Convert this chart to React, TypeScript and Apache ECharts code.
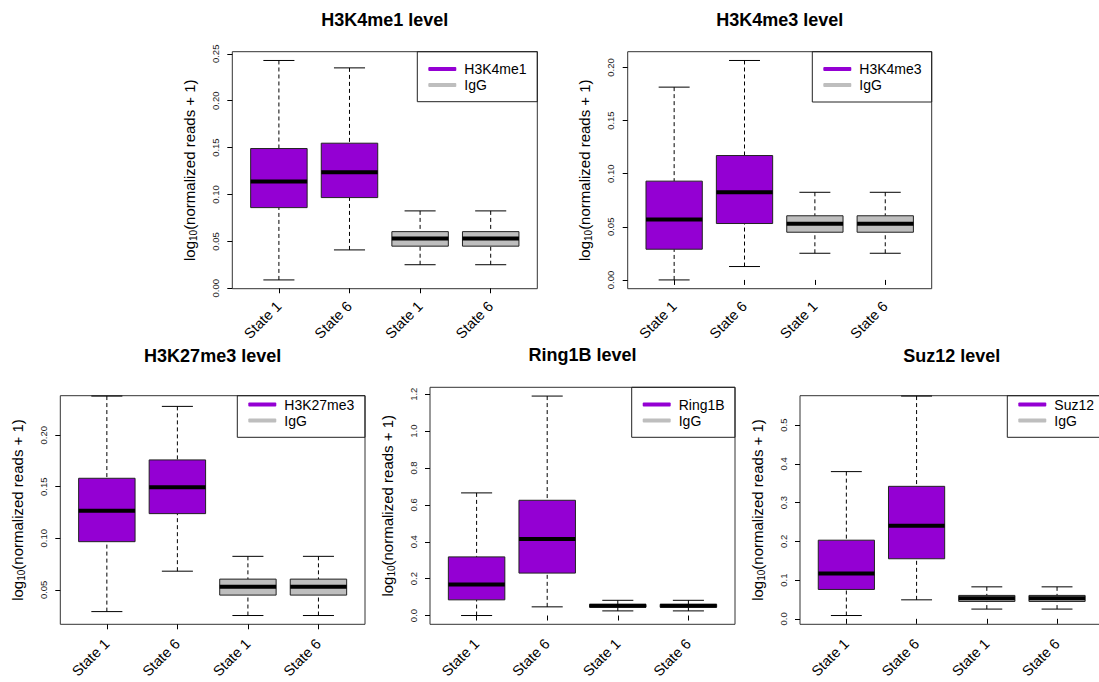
import React, { useEffect, useRef } from 'react';
import * as echarts from 'echarts';

// ---------- data ----------
const stateLabels = ['State 1', 'State 6', 'State 1', 'State 6'];
// box statistics: [lower whisker, Q1, median, Q3, upper whisker]
const iggStats = [0.0251, 0.0449, 0.053, 0.0604, 0.0825];
const h3k4me1Stats = [
  [0.0089, 0.086, 0.1138, 0.149, 0.2429],
  [0.0409, 0.0967, 0.1238, 0.1547, 0.235],
];
const h3k4me3Stats = [
  [0.0, 0.0289, 0.0568, 0.093, 0.1815],
  [0.0126, 0.0531, 0.0826, 0.1171, 0.2066],
];
const h3k27me3Stats = [
  [0.0289, 0.0967, 0.1268, 0.1582, 0.2379],
  [0.0681, 0.1239, 0.1494, 0.176, 0.2279],
];
const ring1bStats = [
  [0.0, 0.085, 0.168, 0.318, 0.665],
  [0.047, 0.23, 0.415, 0.625, 1.19],
];
const suz12Stats = [
  [0.0085, 0.0758, 0.117, 0.203, 0.38],
  [0.049, 0.155, 0.24, 0.342, 0.575],
];
const ticksH3K4me1 = [0, 0.05, 0.1, 0.15, 0.2, 0.25];
const ticksH3K4me3 = [0, 0.05, 0.1, 0.15, 0.2];
const ticksH3K27me3 = [0.05, 0.1, 0.15, 0.2];
const ticksRing1B = [0, 0.2, 0.4, 0.6, 0.8, 1.0, 1.2];
const ticksSuz12 = [0, 0.1, 0.2, 0.3, 0.4, 0.5];

// ---------- layout ----------
const panels = [
  { mark: 'H3K4me1', stats: h3k4me1Stats, ticks: ticksH3K4me1, dec: 2,
    left: 232.3, top: 51.7, right: 537.3, bottom: 288.7, clipTop: null as number | null,
    titleY: 19.5, legendLeft: 417.3, legendTop: 51.7, legendBottom: 101.7, xLabelMargin: 15 },
  { mark: 'H3K4me3', stats: h3k4me3Stats, ticks: ticksH3K4me3, dec: 2,
    left: 627.7, top: 51.7, right: 931.7, bottom: 288.7, clipTop: null,
    titleY: 19.5, legendLeft: 812.3, legendTop: 51.7, legendBottom: 102, xLabelMargin: 15 },
  { mark: 'H3K27me3', stats: h3k27me3Stats, ticks: ticksH3K27me3, dec: 2,
    left: 60.3, top: 387.3, right: 365, bottom: 624.3, clipTop: 395.7,
    titleY: 355.5, legendLeft: 237.3, legendTop: 387.3, legendBottom: 437.3, xLabelMargin: 17 },
  { mark: 'Ring1B', stats: ring1bStats, ticks: ticksRing1B, dec: 1,
    left: 430, top: 387.3, right: 735, bottom: 624.3, clipTop: null,
    titleY: 355, legendLeft: 631.7, legendTop: 387.3, legendBottom: 437.3, xLabelMargin: 17 },
  { mark: 'Suz12', stats: suz12Stats, ticks: ticksSuz12, dec: 1,
    left: 800, top: 387.3, right: 1103.4, bottom: 624.3, clipTop: 395.7,
    titleY: 355.5, legendLeft: 1007.3, legendTop: 387.3, legendBottom: 437.3, xLabelMargin: 17 },
];

const PURPLE = '#9400D3';
const GRAY = '#BEBEBE';
const FONT = '"Liberation Sans", Arial, Helvetica, sans-serif';

function renderBox(color: string) {
  return (params: any, api: any) => {
    const x = api.value(0);
    const lo = api.value(1), q1 = api.value(2), med = api.value(3), q3 = api.value(4), hi = api.value(5);
    const cx = api.coord([x, lo])[0];
    const yLo = api.coord([x, lo])[1];
    const yQ1 = api.coord([x, q1])[1];
    const yMed = api.coord([x, med])[1];
    const yQ3 = api.coord([x, q3])[1];
    const yHi = api.coord([x, hi])[1];
    const xl = api.coord([x - 0.4, med])[0];
    const xr = api.coord([x + 0.4, med])[0];
    const cl = api.coord([x - 0.22, med])[0];
    const cr = api.coord([x + 0.22, med])[0];
    const dash = { stroke: '#000', lineWidth: 1, lineDash: [4, 3] };
    const solid = { stroke: '#000', lineWidth: 1 };
    return {
      type: 'group',
      children: [
        { type: 'line', shape: { x1: cx, y1: yHi, x2: cx, y2: yQ3 }, style: dash },
        { type: 'line', shape: { x1: cx, y1: yLo, x2: cx, y2: yQ1 }, style: dash },
        { type: 'line', shape: { x1: cl, y1: yHi, x2: cr, y2: yHi }, style: solid },
        { type: 'line', shape: { x1: cl, y1: yLo, x2: cr, y2: yLo }, style: solid },
        { type: 'rect', shape: { x: xl, y: yQ3, width: xr - xl, height: yQ1 - yQ3 },
          style: { fill: color, stroke: '#222', lineWidth: 1 } },
        { type: 'line', shape: { x1: xl, y1: yMed, x2: xr, y2: yMed }, style: { stroke: '#000', lineWidth: 4 } },
      ],
    };
  };
}

function buildOption() {
  const grid: any[] = [];
  const xAxis: any[] = [];
  const yAxis: any[] = [];
  const series: any[] = [];
  const legend: any[] = [];
  const graphic: any[] = [];

  panels.forEach((p, i) => {
    const all = [...p.stats.flat(), ...iggStats];
    const lo = Math.min(...all);
    const hi = Math.max(...all);
    const pad = 0.04 * (hi - lo);
    const yMin = lo - pad;
    let yMax = hi + pad;
    let top = p.top;
    if (p.clipTop != null) {
      yMax = yMax - ((p.clipTop - p.top) / (p.bottom - p.top)) * (yMax - yMin);
      top = p.clipTop;
    }
    grid.push({
      left: p.left, top, width: p.right - p.left, height: p.bottom - top,
      containLabel: false, outerBoundsMode: 'none',
      show: true, borderColor: '#333', borderWidth: 1, backgroundColor: 'transparent',
    });
    xAxis.push({
      type: 'value', gridIndex: i, min: 0.34, max: 4.66,
      axisLine: { show: false }, splitLine: { show: false },
      axisTick: { show: true, customValues: [1, 2, 3, 4], length: 5, lineStyle: { color: '#000', width: 1 } },
      axisLabel: {
        show: true, customValues: [1, 2, 3, 4], rotate: 45, margin: p.xLabelMargin,
        fontSize: 14.5, fontFamily: FONT, color: '#000',
        formatter: (v: number) => stateLabels[Math.round(v) - 1],
      },
    });
    yAxis.push({
      type: 'value', gridIndex: i, min: yMin, max: yMax,
      axisLine: { show: false }, splitLine: { show: false },
      axisTick: { show: true, customValues: p.ticks, length: 5, lineStyle: { color: '#000', width: 1 } },
      axisLabel: {
        show: true, customValues: p.ticks, rotate: 90, margin: 12,
        fontSize: 9.5, fontFamily: FONT, color: '#222',
        formatter: (v: number) => v.toFixed(p.dec),
      },
      name: '{a|log}{s|10}{a|(normalized reads + 1)}',
      nameLocation: 'middle', nameRotate: 90, nameGap: 34,
      nameTextStyle: {
        fontFamily: FONT, color: '#000',
        rich: {
          a: { fontSize: 15, fontFamily: FONT, color: '#000', lineHeight: 18 },
          s: { fontSize: 10, fontFamily: FONT, color: '#000', lineHeight: 8, verticalAlign: 'bottom' },
        },
      },
    });
    series.push({
      type: 'custom', name: p.mark, xAxisIndex: i, yAxisIndex: i,
      itemStyle: { color: PURPLE },
      renderItem: renderBox(PURPLE),
      encode: { x: 0, y: [1, 2, 3, 4, 5] },
      data: p.stats.map((s, k) => [k + 1, ...s]),
    });
    series.push({
      type: 'custom', name: 'IgG', xAxisIndex: i, yAxisIndex: i,
      itemStyle: { color: GRAY },
      renderItem: renderBox(GRAY),
      encode: { x: 0, y: [1, 2, 3, 4, 5] },
      data: [[3, ...iggStats], [4, ...iggStats]],
    });
    legend.push({
      orient: 'vertical', left: p.legendLeft + 11, top: p.legendTop + 17.2 - 8,
      padding: 0, itemGap: 0, itemWidth: 28, itemHeight: 4, icon: 'roundRect',
      selectedMode: false,
      textStyle: { fontSize: 14, fontFamily: FONT, color: '#000', lineHeight: 16, padding: [0, 0, 0, 3] },
      data: [
        { name: p.mark, itemStyle: { color: PURPLE } },
        { name: 'IgG', itemStyle: { color: GRAY } },
      ],
    });
    const boxTop = p.clipTop != null ? p.clipTop : p.legendTop;
    graphic.push({
      type: 'rect', silent: true,
      shape: { x: p.legendLeft, y: boxTop, width: p.right - p.legendLeft, height: p.legendBottom - boxTop },
      style: { fill: 'none', stroke: '#222', lineWidth: 1 },
    });
    graphic.push({
      type: 'text', silent: true,
      x: (p.left + p.right) / 2, y: p.titleY,
      style: {
        text: p.mark + ' level', align: 'center', verticalAlign: 'middle',
        fontSize: 18, fontWeight: 'bold', fontFamily: FONT, fill: '#000',
      },
    });
  });

  return { animation: false, backgroundColor: '#fff', grid, xAxis, yAxis, series, legend, graphic };
}

export default function App() {
  const ref = useRef<HTMLDivElement>(null);
  useEffect(() => {
    if (!ref.current) return;
    const chart = echarts.init(ref.current, undefined, { renderer: 'svg' });
    chart.setOption(buildOption() as any);
    return () => chart.dispose();
  }, []);
  return (
    <div
      ref={ref}
      style={{ position: 'absolute', left: 0, top: 0, width: 1099, height: 682, overflow: 'hidden' }}
    />
  );
}
